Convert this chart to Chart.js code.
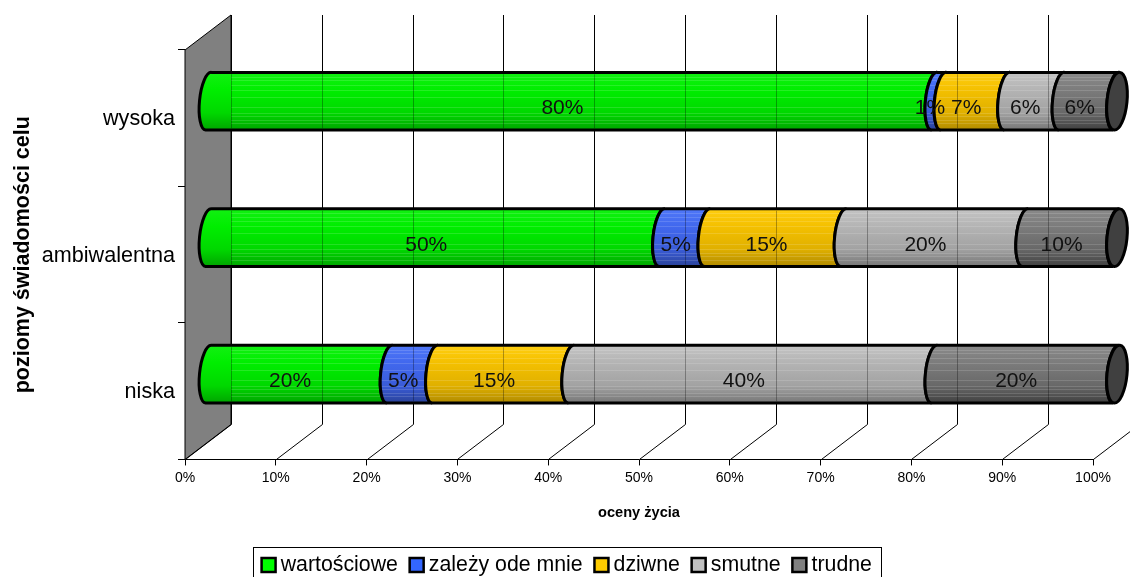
<!DOCTYPE html>
<html>
<head>
<meta charset="utf-8">
<style>body{margin:0;background:#fff}</style>
<script src="https://cdn.jsdelivr.net/npm/chart.js@4/dist/chart.umd.min.js"></script>
</head>
<body>
<canvas id="myChart" width="1130" height="577"></canvas>
<script>
const categories = ['wysoka', 'ambiwalentna', 'niska'];
const wartosciowe = [80, 50, 20];
const zalezy = [1, 5, 5];
const dziwne = [7, 15, 15];
const smutne = [6, 20, 40];
const trudne = [6, 10, 20];
const tickValues = [0, 10, 20, 30, 40, 50, 60, 70, 80, 90, 100];

const FONT = '"Liberation Sans", Arial, sans-serif';
const legendColors = ['#00ff00', '#3366ff', '#ffcc00', '#c0c0c0', '#808080'];
// top, upper middle, lower middle, bottom of each cylinder
const shades = [
    ['#12f012', '#00ee00', '#00d800', '#00a400'],
    ['#5078f8', '#4168ee', '#3a5cd8', '#2a4298'],
    ['#ffce10', '#f4c000', '#e0b000', '#b08a00'],
    ['#c4c4c4', '#b4b4b4', '#a2a2a2', '#767676'],
    ['#8a8a8a', '#7c7c7c', '#686868', '#404040']
];
const stripes = [0.08, 0.14, 0.22, 0.3, 0.42, 0.6, 0.7, 0.76, 0.82, 0.88];

// profundidad del falso 3D
const backDx = 46, backDy = -35;
const barDx = 23, barDy = -17;
const capRx = 9, tilt = 0.1;

const cylinders = {
    id: 'cylinders',
    afterLayout(chart) {
        chart.legend.top = 537;
        chart.legend.left += 23;
        chart.legend.right += 23;
    },
    beforeDatasetsDraw(chart) {
        const c = chart.ctx;
        const x = chart.scales.x, y = chart.scales.y;
        const top = y.top, bottom = y.bottom, left = x.left;

        // marco de la leyenda
        c.save();
        c.strokeStyle = '#000';
        c.lineWidth = 1;
        c.strokeRect(253.5, 547.5, 628, 40);

        // pared
        c.beginPath();
        c.moveTo(left, top);
        c.lineTo(left + backDx, top + backDy);
        c.lineTo(left + backDx, bottom + backDy);
        c.lineTo(left, bottom);
        c.closePath();
        c.fillStyle = '#808080';
        c.fill();
        c.stroke();

        // lineas de fondo y piso
        tickValues.forEach(v => {
            const px = Math.round(x.getPixelForValue(v)) + 0.5;
            c.beginPath();
            c.moveTo(px + backDx, top + backDy);
            c.lineTo(px + backDx, bottom + backDy);
            c.lineTo(px, bottom);
            c.stroke();
        });

        chart.data.datasets.forEach((ds, i) => {
            chart.getDatasetMeta(i).data.forEach(el => {
                drawSegment(c, el, i);
                if (i === chart.data.datasets.length - 1) drawCap(c, el);
            });
        });

        // lineas vistas a traves de las barras
        c.strokeStyle = 'rgba(0,0,0,0.3)';
        chart.getDatasetMeta(0).data.forEach(el => {
            tickValues.forEach(v => {
                const px = Math.round(x.getPixelForValue(v)) + 0.5 + backDx;
                c.beginPath();
                c.moveTo(px, el.y + barDy - el.height / 2 + 2);
                c.lineTo(px, el.y + barDy + el.height / 2 - 2);
                c.stroke();
            });
        });

        // etiquetas
        c.fillStyle = '#111';
        c.font = '21px ' + FONT;
        c.textAlign = 'center';
        c.textBaseline = 'middle';
        chart.data.datasets.forEach((ds, i) => {
            chart.getDatasetMeta(i).data.forEach((el, j) => {
                const cx = (el.base + el.x) / 2 + barDx - 9;
                c.fillText(ds.data[j] + '%', cx, el.y + barDy + 7);
            });
        });
        c.restore();
        return false;
    }
};

function drawSegment(c, el, i) {
    const x0 = el.base + barDx, x1 = el.x + barDx;
    const cy = el.y + barDy, ry = el.height / 2;
    const yTop = cy - ry, yBot = cy + ry;
    c.beginPath();
    c.ellipse(x0, cy, capRx, ry, tilt, -Math.PI / 2, Math.PI / 2, true);
    c.ellipse(x1, cy, capRx, ry, tilt, Math.PI / 2, -Math.PI / 2, false);
    c.closePath();

    const g = c.createLinearGradient(0, yTop, 0, yBot);
    g.addColorStop(0, shades[i][0]);
    g.addColorStop(0.3, shades[i][1]);
    g.addColorStop(0.7, shades[i][2]);
    g.addColorStop(1, shades[i][3]);
    c.fillStyle = g;
    c.fill();

    // bandas claras
    c.save();
    c.clip();
    c.fillStyle = 'rgba(255,255,255,0.14)';
    const startX = Math.max(x0 - capRx, 231);
    stripes.forEach(s => {
        c.fillRect(startX, Math.round(yTop + s * el.height), x1 - startX + capRx, 1);
    });
    c.restore();

    c.lineWidth = 3;
    c.strokeStyle = '#000';
    c.stroke();
    c.lineWidth = 1;
}

function drawCap(c, el) {
    const cx = el.x + barDx + 1, cy = el.y + barDy;
    c.beginPath();
    c.ellipse(cx, cy, capRx + 1, el.height / 2, tilt, 0, Math.PI * 2);
    c.fillStyle = '#404040';
    c.fill();
    c.lineWidth = 3;
    c.stroke();
    c.lineWidth = 1;
}

function serie(label, data, i) {
    return {
        label: label,
        data: data,
        backgroundColor: legendColors[i],
        borderColor: '#000',
        borderWidth: 2.5,
        barThickness: 58
    };
}

new Chart(document.getElementById('myChart').getContext('2d'), {
    type: 'bar',
    data: {
        labels: categories,
        datasets: [
            serie('wartościowe', wartosciowe, 0),
            serie('zależy ode mnie', zalezy, 1),
            serie('dziwne', dziwne, 2),
            serie('smutne', smutne, 3),
            serie('trudne', trudne, 4)
        ]
    },
    plugins: [cylinders],
    options: {
        indexAxis: 'y',
        responsive: false,
        animation: false,
        layout: { padding: { top: 50, right: 37, left: 0, bottom: 0 } },
        plugins: {
            tooltip: { enabled: false },
            legend: {
                position: 'bottom',
                labels: {
                    usePointStyle: true,
                    pointStyle: 'rect',
                    boxWidth: 3,
                    boxHeight: 14,
                    padding: 17.25,
                    color: '#000',
                    font: { family: FONT, size: 21.3 }
                }
            }
        },
        scales: {
            x: {
                stacked: true,
                min: 0,
                max: 100,
                afterFit(s) { s.height = 69; },
                afterBuildTicks(s) { s.ticks = tickValues.map(v => ({ value: v })); },
                grid: { drawOnChartArea: false, tickLength: 6, color: '#000' },
                border: { color: '#000' },
                ticks: {
                    color: '#000',
                    maxRotation: 0,
                    padding: 4,
                    font: { family: FONT, size: 14 },
                    callback: v => v + '%'
                },
                title: {
                    display: true,
                    text: 'oceny życia',
                    color: '#000',
                    padding: { top: 0, bottom: 7 },
                    font: { family: FONT, size: 14.6, weight: 'bold' }
                }
            },
            y: {
                stacked: true,
                afterFit(s) { s.width = 185; },
                grid: { drawOnChartArea: false, tickLength: 7, color: '#000' },
                border: { color: '#000' },
                ticks: {
                    color: '#000',
                    padding: 3,
                    labelOffset: 1,
                    font: { family: FONT, size: 21.6 }
                },
                title: {
                    display: true,
                    text: 'poziomy świadomości celu',
                    color: '#000',
                    padding: { top: 10, bottom: 0 },
                    font: { family: FONT, size: 21.5, weight: 'bold' }
                }
            }
        }
    }
});
</script>
</body>
</html>
